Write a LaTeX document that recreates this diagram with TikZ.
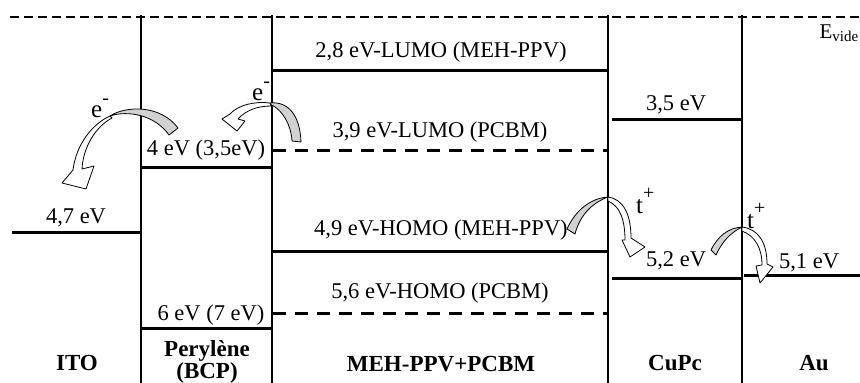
\documentclass[tikz,border=0pt]{standalone}
\usepackage{fontspec}
\setmainfont{Liberation Serif}
\newcommand\chargelab[3]{#1\raisebox{#3}{\fontsize{20}{22}\selectfont #2}}
\begin{document}
\begin{tikzpicture}[x=1pt,y=-1pt,
  lvl/.style={line width=3pt},
  lvldash/.style={line width=3pt, dash pattern=on 13pt off 9pt},
  vac/.style={line width=2pt, dash pattern=on 9pt off 5pt},
  wall/.style={line width=1.2pt},
  lab/.style={font=\fontsize{22.5}{26}\selectfont, anchor=base, inner sep=0pt},
  chg/.style={font=\fontsize{25}{28}\selectfont, anchor=base west, inner sep=0pt},
  mat/.style={font=\fontsize{23}{27}\selectfont\bfseries, anchor=base, inner sep=0pt},
  back/.style={fill=gray!35, draw=black, line width=0.8pt, line join=round},
  front/.style={fill=white, draw=black, line width=0.8pt, line join=round},
]
\useasboundingbox (0,0) rectangle (860,383);
% vacuum level
\coordinate (v0) at (10,17); \coordinate (v1) at (860,17);
\draw[vac] (v0) -- (v1);
\node[anchor=base east, inner sep=0pt, font=\fontsize{21}{24}\selectfont] (evide) at (859,38) {E\textsubscript{\fontsize{15}{17}\selectfont vide}};
% walls
\foreach \x/\n in {141/a,272/b,608/c,742/d} {
  \coordinate (w\n t) at (\x,15); \coordinate (w\n b) at (\x,383);
  \draw[wall] (w\n t) -- (w\n b);
}
% levels
\draw[lvl] (12,232) -- (141,232);
\draw[lvl] (142,167) -- (271,167);
\draw[lvl] (142,328) -- (271,328);
\draw[lvl] (273,70) -- (608,70);
\draw[lvldash] (273,150) -- (608,150);
\draw[lvl] (273,251) -- (608,251);
\draw[lvldash] (273,313) -- (608,313);
\draw[lvl] (612,119) -- (742,119);
\draw[lvl] (612,278) -- (742,278);
\draw[lvl] (744,275) -- (860,275);
% level labels
\node[lab] (l47) at (76,223) {4,7 eV};
\node[lab] (l4) at (206,155) {4 eV (3,5eV)};
\node[lab] (l6) at (211,320) {6 eV (7 eV)};
\node[lab] (l28) at (441,57) {2,8 eV-LUMO (MEH-PPV)};
\node[lab] (l39) at (440,137) {3,9 eV-LUMO (PCBM)};
\node[lab] (l49) at (441,235) {4,9 eV-HOMO (MEH-PPV)};
\node[lab] (l56) at (440,298) {5,6 eV-HOMO (PCBM)};
\node[lab] (l35) at (676,110) {3,5 eV};
\node[lab] (l52) at (676,266) {5,2 eV};
\node[lab] (l51) at (809,268) {5,1 eV};
% material labels
\node[mat] (ito) at (77,370) {ITO};
\node[mat] (per) at (207,356) {Perylène};
\node[mat] (bcp) at (207,378) {(BCP)};
\node[mat] (meh) at (441,371) {MEH-PPV+PCBM};
\node[mat] (cupc) at (675,370) {CuPc};
\node[mat] (au) at (814,370) {Au};
% arrow 1
\draw[back] (110,116) .. controls (125,106) and (160,104) .. (178,128) -- (169,135) .. controls (155,115) and (128,110) .. (110,116) -- cycle;
\draw[front] (110,116) .. controls (92,124) and (76,145) .. (73,170) -- (62,183) -- (86,189) -- (94,166) -- (82,169) .. controls (83,148) and (95,127) .. (112,118) -- cycle;
\node[chg] (e1) at (91,117) {\chargelab{e}{-}{13pt}};
% arrow 2
\draw[back] (270,103) .. controls (288,101) and (300,115) .. (301,142) -- (292,141) .. controls (291,125) and (283,110) .. (270,104) -- cycle;
\draw[front] (270,103) .. controls (255,101) and (238,105) .. (230,114) -- (222,119) -- (237,131) -- (245,121) -- (238,119) .. controls (246,110) and (258,106) .. (271,106) -- cycle;
\node[chg] (e2) at (252,100) {\chargelab{e}{-}{13pt}};
% arrow 3
\draw[back] (567,229) .. controls (576,209) and (592,198) .. (608,197) .. controls (592,203) and (580,215) .. (575,234) -- cycle;
\draw[front] (608,197) .. controls (622,199) and (631,212) .. (631,238) -- (645,247) -- (630,257) -- (622,240) -- (625,240) .. controls (625,220) and (620,206) .. (608,201) -- cycle;
\node[chg] (t1) at (636,213) {\chargelab{t}{+}{14pt}};
% arrow 4
\draw[back] (711,250) .. controls (718,236) and (728,228) .. (742,227) .. controls (730,233) and (722,242) .. (716,255) -- cycle;
\draw[front] (742,227) .. controls (758,229) and (767,242) .. (767,264) -- (773,267) -- (760,283) -- (756,266) -- (762,265) .. controls (762,248) and (755,236) .. (742,231) -- cycle;
\node[chg] (t2) at (747,228) {\chargelab{t}{+}{14pt}};
\end{tikzpicture}
\end{document}
